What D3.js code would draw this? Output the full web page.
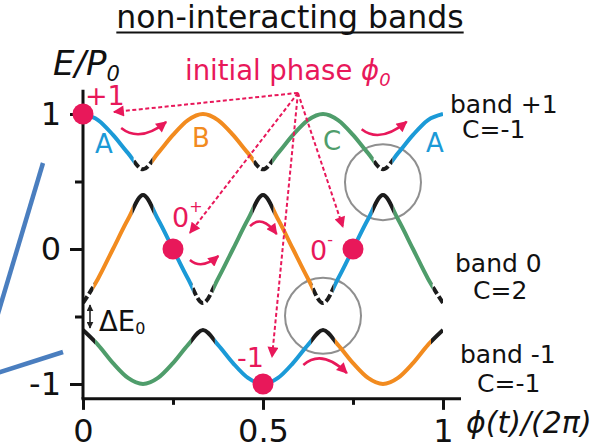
<!DOCTYPE html>
<html>
<head>
<meta charset="utf-8">
<script src="https://cdn.jsdelivr.net/npm/d3@7/dist/d3.min.js"></script>
<style>
  html, body { margin: 0; padding: 0; background: #fff; }
  svg { display: block; font-family: "DejaVu Sans", Verdana, sans-serif; }
</style>
</head>
<body>
<svg id="chart" width="596" height="446"></svg>
<script>
// Phase grid phi/(2*pi), steps of 1/24
const phaseGrid = [0, 0.0417, 0.0833, 0.125, 0.1667, 0.2083, 0.25, 0.2917, 0.3333,
  0.375, 0.4167, 0.4583, 0.5, 0.5417, 0.5833, 0.625, 0.6667,
  0.7083, 0.75, 0.7917, 0.8333, 0.875, 0.9167, 0.9583, 1];

// Band energies E/P0 on that grid
const bandPlus1 = [1.00, 0.955, 0.845, 0.71, 0.59, 0.71, 0.845, 0.955, 1.00,
  0.955, 0.845, 0.71, 0.59, 0.71, 0.845, 0.955, 1.00,
  0.955, 0.845, 0.71, 0.59, 0.71, 0.845, 0.955, 1.00];
const band0 = [-0.40, -0.22, 0.00, 0.22, 0.40, 0.22, 0.00, -0.22, -0.40,
  -0.22, 0.00, 0.22, 0.40, 0.22, 0.00, -0.22, -0.40,
  -0.22, 0.00, 0.22, 0.40, 0.22, 0.00, -0.22, -0.40];
const bandMinus1 = [-0.60, -0.71, -0.845, -0.955, -1.00, -0.955, -0.845, -0.71, -0.60,
  -0.71, -0.845, -0.955, -1.00, -0.955, -0.845, -0.71, -0.60,
  -0.71, -0.845, -0.955, -1.00, -0.955, -0.845, -0.71, -0.60];

// Coloured pieces of each band: [from, to, colour]
const piecesPlus1 = [[0, 0.1667, "blue"], [0.1667, 0.5, "orange"], [0.5, 0.8333, "green"], [0.8333, 1, "blue"]];
const pieces0 = [[0, 0.1667, "orange"], [0.1667, 0.3333, "blue"], [0.3333, 0.5, "green"],
  [0.5, 0.6667, "orange"], [0.6667, 0.8333, "blue"], [0.8333, 1, "green"]];
const piecesMinus1 = [[0, 0.3333, "green"], [0.3333, 0.6667, "blue"], [0.6667, 1, "orange"]];

// Near-gap parts of each band (drawn black): solid or dashed
const gapsPlus1Dashed = [0.1667, 0.5, 0.8333];
const gaps0Solid = [0.1667, 0.5, 0.8333];
const gaps0Dashed = [0, 0.3333, 0.6667, 1];
const gapsMinus1Solid = [0, 0.3333, 0.6667, 1];

// Initial phases marked on the bands
const startPhases = [0, 0.25, 0.75, 0.5];
const startBands = ["plus1", "zero", "zero", "minus1"];
const startLabels = ["+1", "0", "0", "-1"];
const startSups = ["", "+", "-", ""];

// Axis ticks
const yMajorTicks = [-1, 0, 1];
const yMinorTicks = [-0.5, 0.5];
const xMajorTicks = [0, 0.5, 1];
const xMinorTicks = [0.25, 0.75];

const svg = d3.select("#chart");
const defs = svg.append("defs");
const pink = "#e8185a";
const colors = { blue: "#1b9ad7", orange: "#f28b1f", green: "#4f9d6b", gap: "#1c1c1c" };

const x = d3.scaleLinear().domain([0, 1]).range([83, 443]);
const y = d3.scaleLinear().domain([-1, 1]).range([384, 114]);

const bandValues = { plus1: bandPlus1, zero: band0, minus1: bandMinus1 };

// Arrowhead markers
function addMarker(id, w, h, fill) {
  defs.append("marker").attr("id", id)
    .attr("viewBox", "0 0 10 10").attr("refX", 9).attr("refY", 5)
    .attr("markerWidth", w).attr("markerHeight", h)
    .attr("markerUnits", "userSpaceOnUse").attr("orient", "auto-start-reverse")
    .append("path").attr("d", "M0,0L10,5L0,10z").attr("fill", fill);
}
addMarker("headPink", 12, 11, pink);
addMarker("headBlack", 7, 7, "#222");

// Slide decoration strokes at the left edge
const deco = svg.append("g").attr("stroke", "#4a7ebf").attr("stroke-width", 4.5).attr("stroke-linecap", "butt");
deco.append("line").attr("x1", 43).attr("y1", 163).attr("x2", -6).attr("y2", 327);
deco.append("line").attr("x1", 63).attr("y1", 352).attr("x2", -6).attr("y2", 374);

// Gap circles
svg.append("g").attr("fill", "none").attr("stroke", "#8f8f8f").attr("stroke-width", 2)
  .selectAll("circle")
  .data([[0.8333, 0.495], [0.6667, -0.495]])
  .join("circle")
  .attr("cx", d => x(d[0])).attr("cy", d => y(d[1])).attr("r", 38);

// Bands
const line = d3.line()
  .x((d, i) => x(phaseGrid[i]))
  .y(d => y(d))
  .curve(d3.curveMonotoneX);

let clipCount = 0;
function clipTo(p0, p1) {
  const id = "clip" + (clipCount++);
  defs.append("clipPath").attr("id", id)
    .append("rect").attr("x", x(p0)).attr("y", 0)
    .attr("width", Math.max(0, x(p1) - x(p0))).attr("height", 446);
  return "url(#" + id + ")";
}

const bandLayer = svg.append("g").attr("fill", "none").attr("stroke-width", 4).attr("stroke-linecap", "butt");

function drawBand(values, pieces, solidGaps, dashedGaps, hw) {
  const d = line(values);
  const probe = bandLayer.append("path").attr("d", d).attr("stroke", "none");
  const node = probe.node();
  const total = node.getTotalLength();
  const lengthAtX = px => {
    let lo = 0, hi = total;
    for (let k = 0; k < 40; k++) {
      const mid = (lo + hi) / 2;
      if (node.getPointAtLength(mid).x < px) lo = mid; else hi = mid;
    }
    return lo;
  };
  const allGaps = solidGaps.concat(dashedGaps);
  const isGap = p => allGaps.some(g => Math.abs(g - p) < 1e-3);
  pieces.forEach(([a, b, c]) => {
    const s = a + (isGap(a) ? hw : 0);
    const e = b - (isGap(b) ? hw : 0);
    bandLayer.append("path").attr("d", d).attr("stroke", colors[c]).attr("clip-path", clipTo(s, e));
  });
  solidGaps.forEach(g => {
    const s = Math.max(0, g - hw), e = Math.min(1, g + hw);
    bandLayer.append("path").attr("d", d).attr("stroke", colors.gap).attr("clip-path", clipTo(s, e));
  });
  dashedGaps.forEach(g => {
    const s = Math.max(0, g - hw), e = Math.min(1, g + hw);
    bandLayer.append("path").attr("d", d).attr("stroke", colors.gap)
      .attr("stroke-dasharray", "8,3")
      .attr("stroke-dashoffset", -lengthAtX(x(s)))
      .attr("clip-path", clipTo(s, e));
  });
  probe.remove();
}

drawBand(bandPlus1, piecesPlus1, [], gapsPlus1Dashed, 0.026);
drawBand(band0, pieces0, gaps0Solid, gaps0Dashed, 0.029);
drawBand(bandMinus1, piecesMinus1, gapsMinus1Solid, [], 0.033);

// Axes
const axisLevel = -1.11, axisTop = 1.18, axisEnd = 1.05;
const axisColor = "#111";

svg.append("line").attr("x1", x(0)).attr("x2", x(0)).attr("y1", y(axisTop)).attr("y2", y(axisLevel))
  .attr("stroke", axisColor).attr("stroke-width", 3);
svg.append("line").attr("x1", x(0) - 1.5).attr("x2", x(axisEnd)).attr("y1", y(axisLevel)).attr("y2", y(axisLevel))
  .attr("stroke", axisColor).attr("stroke-width", 3);

const fmt = d => (d < 0 ? "-" + Math.abs(d) : String(d));

function styleAxis(g, w) {
  g.select(".domain").remove();
  g.selectAll(".tick line").attr("stroke", axisColor).attr("stroke-width", w);
  g.selectAll(".tick text").attr("fill", "#111").attr("font-size", 32)
    .attr("font-family", "'DejaVu Sans', Verdana, sans-serif");
}

svg.append("g").attr("transform", `translate(${x(0)},0)`)
  .call(d3.axisLeft(y).tickValues(yMajorTicks).tickSize(13).tickPadding(9).tickFormat(fmt))
  .call(g => styleAxis(g, 3));
svg.append("g").attr("transform", `translate(${x(0)},0)`)
  .call(d3.axisLeft(y).tickValues(yMinorTicks).tickSize(8).tickFormat(""))
  .call(g => styleAxis(g, 3));
svg.append("g").attr("transform", `translate(0,${y(axisLevel)})`)
  .call(d3.axisBottom(x).tickValues(xMajorTicks).tickSize(11).tickPadding(9).tickFormat(fmt))
  .call(g => styleAxis(g, 3));
svg.append("g").attr("transform", `translate(0,${y(axisLevel)})`)
  .call(d3.axisBottom(x).tickValues(xMinorTicks).tickSize(6).tickFormat(""))
  .call(g => styleAxis(g, 3));

// Pointers from the "initial phase" caption
const apex = [0.597, 1.156];
const pointerEnds = [[0.086, 1.015], [0.297, 0.119], [0.722, 0.163], [0.525, -0.80]];
svg.append("g").selectAll("line").data(pointerEnds).join("line")
  .attr("x1", x(apex[0])).attr("y1", y(apex[1]))
  .attr("x2", d => x(d[0])).attr("y2", d => y(d[1]))
  .attr("stroke", pink).attr("stroke-width", 2).attr("stroke-dasharray", "4,2.5")
  .attr("marker-end", "url(#headPink)");

// Curved motion arrows: start, control, end
const motionArrows = [
  [[0.106, 0.896], [0.158, 0.785], [0.231, 0.941]],
  [[0.774, 0.887], [0.825, 0.78], [0.899, 0.943]],
  [[0.297, -0.081], [0.33, -0.156], [0.376, -0.052]],
  [[0.464, 0.170], [0.497, 0.26], [0.538, 0.111]],
  [[0.612, -0.859], [0.664, -0.737], [0.733, -0.919]]
];
svg.append("g").selectAll("path").data(motionArrows).join("path")
  .attr("d", d => `M${x(d[0][0])},${y(d[0][1])}Q${x(d[1][0])},${y(d[1][1])} ${x(d[2][0])},${y(d[2][1])}`)
  .attr("fill", "none").attr("stroke", pink).attr("stroke-width", 2.5)
  .attr("marker-end", "url(#headPink)");

// Starting points
svg.append("g").selectAll("circle").data(startPhases).join("circle")
  .attr("cx", p => x(p))
  .attr("cy", (p, i) => y(bandValues[startBands[i]][phaseGrid.findIndex(g => Math.abs(g - p) < 1e-3)]))
  .attr("r", 10.5).attr("fill", pink);

// Text
const text = (px, py, str, size, opts = {}) => {
  const t = svg.append("text").attr("x", px).attr("y", py).attr("font-size", size)
    .attr("fill", opts.fill || "#111").attr("text-anchor", opts.anchor || "start");
  if (opts.italic) t.attr("font-style", "italic");
  t.text(str);
  return t;
};

// Title with underline
const title = text(290, 28, "non-interacting bands", 31.5, { anchor: "middle" });
const tw = title.node().getComputedTextLength();
svg.append("line").attr("x1", 290 - tw / 2).attr("x2", 290 + tw / 2).attr("y1", 32.5).attr("y2", 32.5)
  .attr("stroke", "#111").attr("stroke-width", 2);

// Axis titles
const ey = text(53, 75, "E/P", 34, { italic: true });
ey.append("tspan").attr("font-size", 21).attr("dy", 6).text("0");
text(466, 433, "\u03d5(t)/(2\u03c0)", 30, { italic: true });

// Caption
const cap = text(185, 80, "initial phase ", 27.5, { fill: pink });
cap.append("tspan").attr("font-style", "italic").text("\u03d5");
cap.append("tspan").attr("font-style", "italic").attr("font-size", 18).attr("dy", 6).text("0");

// Start labels
const startLabelPos = [[85, 105], [172, 227], [310, 260], [237, 367]];
startLabels.forEach((s, i) => {
  const t = text(startLabelPos[i][0], startLabelPos[i][1], s, 27, { fill: pink });
  if (startSups[i]) t.append("tspan").attr("font-size", 16).attr("dy", -15).text(startSups[i]);
});

// Segment letters
[["A", 104, 153, "blue"], ["B", 201, 147, "orange"], ["C", 332, 150, "green"], ["A", 435, 152, "blue"]]
  .forEach(([s, lx, ly, c]) => text(lx, ly, s, 26, { anchor: "middle", fill: colors[c] }));

// Band names and Chern numbers
text(450, 113, "band +1", 25);
text(462, 138, "C=-1", 25);
text(455, 272, "band 0", 25);
text(473, 299, "C=2", 25);
text(460, 363, "band -1", 25);
text(477, 392, "C=-1", 25);

// Gap size marker
svg.append("line").attr("x1", 90).attr("x2", 90).attr("y1", y(-0.415)).attr("y2", y(-0.585))
  .attr("stroke", "#222").attr("stroke-width", 1.6)
  .attr("marker-start", "url(#headBlack)").attr("marker-end", "url(#headBlack)");
const de = text(99, 331, "\u0394E", 27.5);
de.append("tspan").attr("font-size", 16).attr("dy", 3).text("0");
</script>
</body>
</html>
